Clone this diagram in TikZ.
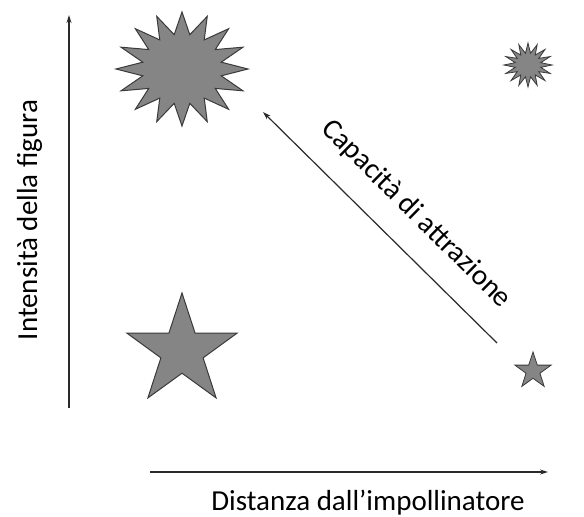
\documentclass[tikz,border=0pt]{standalone}
\usepackage{fontspec}
\setmainfont{Carlito}
\usetikzlibrary{arrows.meta}
\definecolor{starfill}{HTML}{858585}
\definecolor{starline}{HTML}{3A3A3A}
\definecolor{axisline}{HTML}{2A2A2A}
\tikzset{
  axis/.style={draw=axisline, line width=1.2pt, -{Stealth[length=8pt,width=5pt]}},
  lbl/.style={font=\fontsize{29}{34}\selectfont, text=black, inner sep=0pt},
  starshape/.style={fill=starfill, draw=starline, line width=1pt, line join=miter},
}
\begin{document}
\begin{tikzpicture}[x=1pt,y=-1pt]
\useasboundingbox (0,0) rectangle (584,517);
% axes
\coordinate (ybot) at (69,408);
\coordinate (ytop) at (69,15);
\coordinate (xleft) at (150,472);
\coordinate (xright) at (548,472);
\draw[axis] (ybot) -- (ytop);
\draw[axis] (xleft) -- (xright);
\node[lbl, rotate=90, anchor=base] (ylab) at (37,220) {Intensità della figura};
\node[lbl, anchor=base] (xlab) at (368,510) {Distanza dall’impollinatore};
% diagonal arrow
\coordinate (dstart) at (497,343);
\coordinate (dend) at (263,112);
\draw[axis] (dstart) -- node[lbl, sloped, pos=0.45, above=22pt] (dlab) {Capacità di attrazione} (dend);
% big sunburst
\draw[starshape] plot[samples at={0,...,31}]
  ({182+cos(90+\x*11.25)*(mod(\x,2)==0 ? 66 : 40)},
   {69-sin(90+\x*11.25)*(mod(\x,2)==0 ? 57 : 35)}) -- cycle;
% small sunburst
\draw[starshape, line width=0.8pt] plot[samples at={0,...,31}]
  ({528+cos(90+\x*11.25)*(mod(\x,2)==0 ? 24 : 13)},
   {65-sin(90+\x*11.25)*(mod(\x,2)==0 ? 22 : 12)}) -- cycle;
% big star
\draw[starshape] plot[samples at={0,...,9}]
  ({182+cos(90+\x*36)*(mod(\x,2)==0 ? 58 : 22.2)},
   {351-sin(90+\x*36)*(mod(\x,2)==0 ? 58 : 22.2)}) -- cycle;
% small star
\draw[starshape, line width=0.8pt] plot[samples at={0,...,9}]
  ({533+cos(90+\x*36)*(mod(\x,2)==0 ? 19 : 7.3)},
   {371-sin(90+\x*36)*(mod(\x,2)==0 ? 19 : 7.3)}) -- cycle;
\end{tikzpicture}
\end{document}
